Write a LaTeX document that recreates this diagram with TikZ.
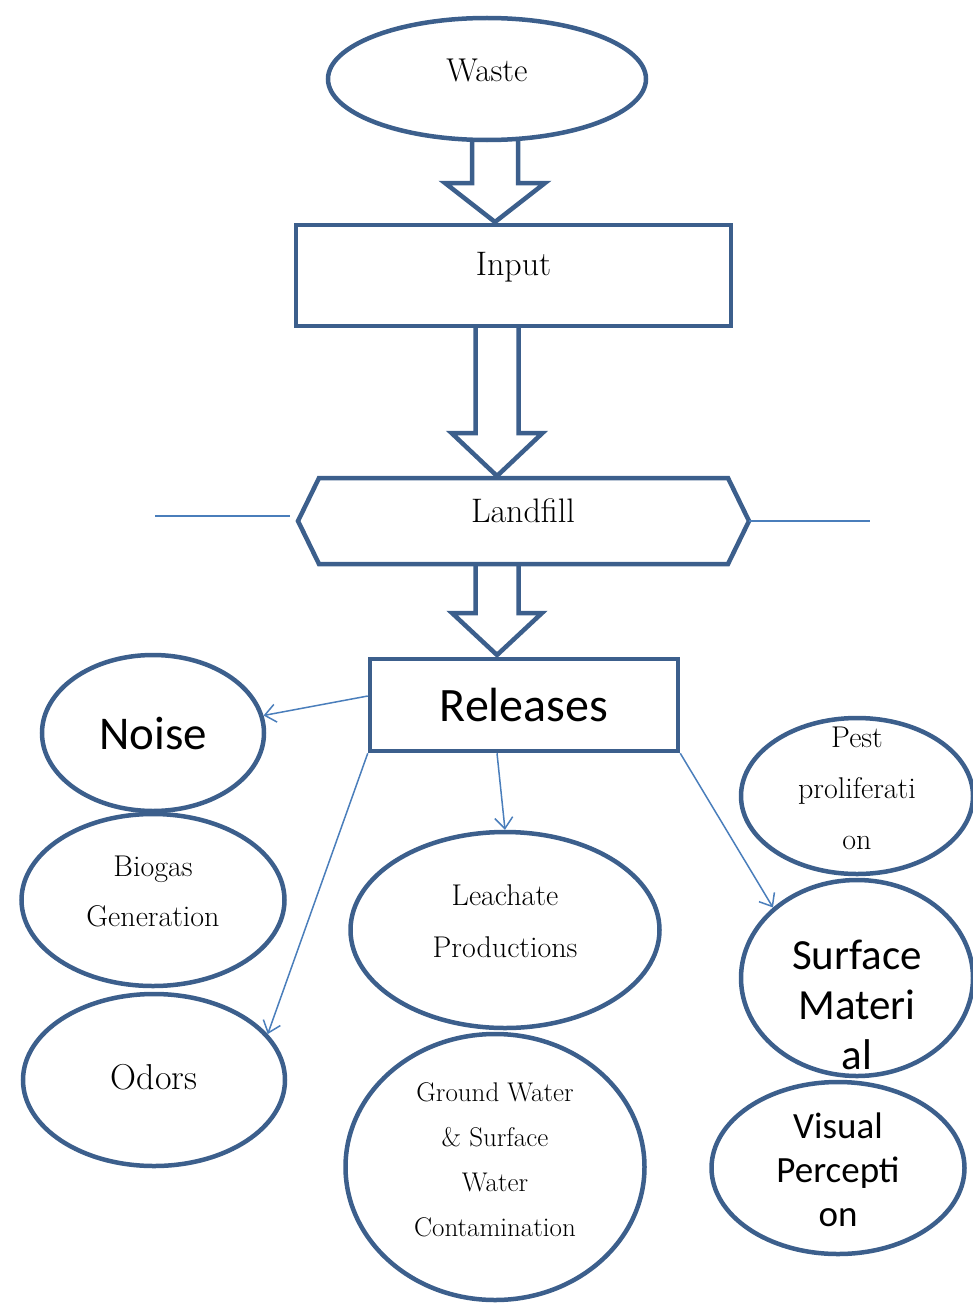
\documentclass[tikz,border=0pt]{standalone}
\usepackage{fontspec}
\newfontfamily\calibri{Carlito}
\usetikzlibrary{shapes.geometric}
\usetikzlibrary{arrows.meta}
\definecolor{boxblue}{RGB}{60,95,140}
\definecolor{lineblue}{RGB}{74,126,187}
\tikzset{
  shapeline/.style={draw=boxblue, line width=4.5pt, fill=white},
  oval/.style={shapeline, ellipse, inner sep=0pt},
  box/.style={shapeline, rectangle, inner sep=0pt},
  thinline/.style={draw=lineblue, line width=1.5pt},
  release/.style={thinline, -{Straight Barb[length=11pt, width=18pt, line width=1.5pt]}},
  serifword/.style={font=\fontsize{30}{51}\selectfont, align=center},
  sansword/.style={font=\calibri\fontsize{43}{50}\selectfont, align=center},
}

\begin{document}
\begin{tikzpicture}[x=1pt, y=-1pt]
	\useasboundingbox (0,0) rectangle (972,1303);
	% block arrows between the main steps
	\foreach \x/\top/\neck/\tip/\shaft/\head in {495/140/183/222/23/50, 497/326/433/476/21.5/45.5, 497/563/613/655/21.5/45}
	  \path[draw=boxblue, line width=4.5pt, fill=white, line join=miter]
	     (\x-\shaft,\top) -- (\x-\shaft,\neck) -- (\x-\head,\neck) -- (\x,\tip)
	  -- (\x+\head,\neck) -- (\x+\shaft,\neck) -- (\x+\shaft,\top);
	% main chain
	\node[oval, minimum width=318, minimum height=122, label={[serifword, font=\fontsize{33}{38}\selectfont, yshift=9pt]center:Waste}] (waste) at (487,79) {};
	\node[box, minimum width=435, minimum height=101, label={[serifword, font=\fontsize{34}{40}\selectfont, yshift=8pt]center:Input}] (input) at (513.5,275.5) {};
	\draw[shapeline, line join=miter] (298,521) -- (319,478) -- (728,478) -- (749,521) -- (728,564) -- (319,564) -- cycle;
	\coordinate (hexeast) at (749,521);
	\node[serifword, font=\fontsize{34}{40}\selectfont] (landfill) at (523,511) {Landfill};
	\draw[thinline] (155,516) -- (290,516);
	\draw[thinline] (hexeast) -- (870,521);
	\node[box, minimum width=308, minimum height=92, label={[sansword, font=\calibri\fontsize{48}{54}\selectfont]center:Releases}] (releases) at (524,705) {};
	% left column
	\node[oval, minimum width=222, minimum height=156, label={[sansword, font=\calibri\fontsize{47}{52}\selectfont]center:Noise}] (noise) at (153,733) {};
	\node[oval, minimum width=263, minimum height=172, label={[serifword, font=\fontsize{30}{50}\selectfont, yshift=9pt]center:{Biogas\\Generation}}] (biogas) at (153,900) {};
	\node[oval, minimum width=262, minimum height=172, label={[serifword, font=\fontsize{36}{40}\selectfont, yshift=3pt]center:Odors}] (odors) at (154,1080) {};
	% middle column
	\node[oval, minimum width=309, minimum height=196, label={[serifword, font=\fontsize{30}{52}\selectfont, yshift=9pt]center:{Leachate\\Productions}}] (leachate) at (505,930) {};
	\node[oval, minimum width=299, minimum height=266, label={[serifword, font=\fontsize{27}{45}\selectfont, yshift=7pt]center:{Ground Water\\\& Surface\\Water\\Contamination}}] (ground) at (495,1167) {};
	% right column
	\node[oval, minimum width=232, minimum height=156, label={[serifword, yshift=8pt]center:{Pest\\proliferati\\on}}] (pest) at (857,796) {};
	\node[oval, minimum width=232, minimum height=196, label={[sansword, yshift=-27pt]center:{Surface\\Materi\\al}}] (surface) at (857,978) {};
	\node[oval, minimum width=253, minimum height=172, label={[sansword, font=\calibri\fontsize{37}{44}\selectfont, yshift=-2pt]center:{Visual\\Percepti\\on}}] (visual) at (838,1168) {};
	% releases
	\draw[release] ([yshift=9pt]releases.west) -- (noise.9);
	\draw[release] (releases.south west) -- (odors.22);
	\draw[release] ([xshift=-27pt]releases.south) -- (leachate.north);
	\draw[release] (releases.south east) -- (surface.140);
\end{tikzpicture}
\end{document}
